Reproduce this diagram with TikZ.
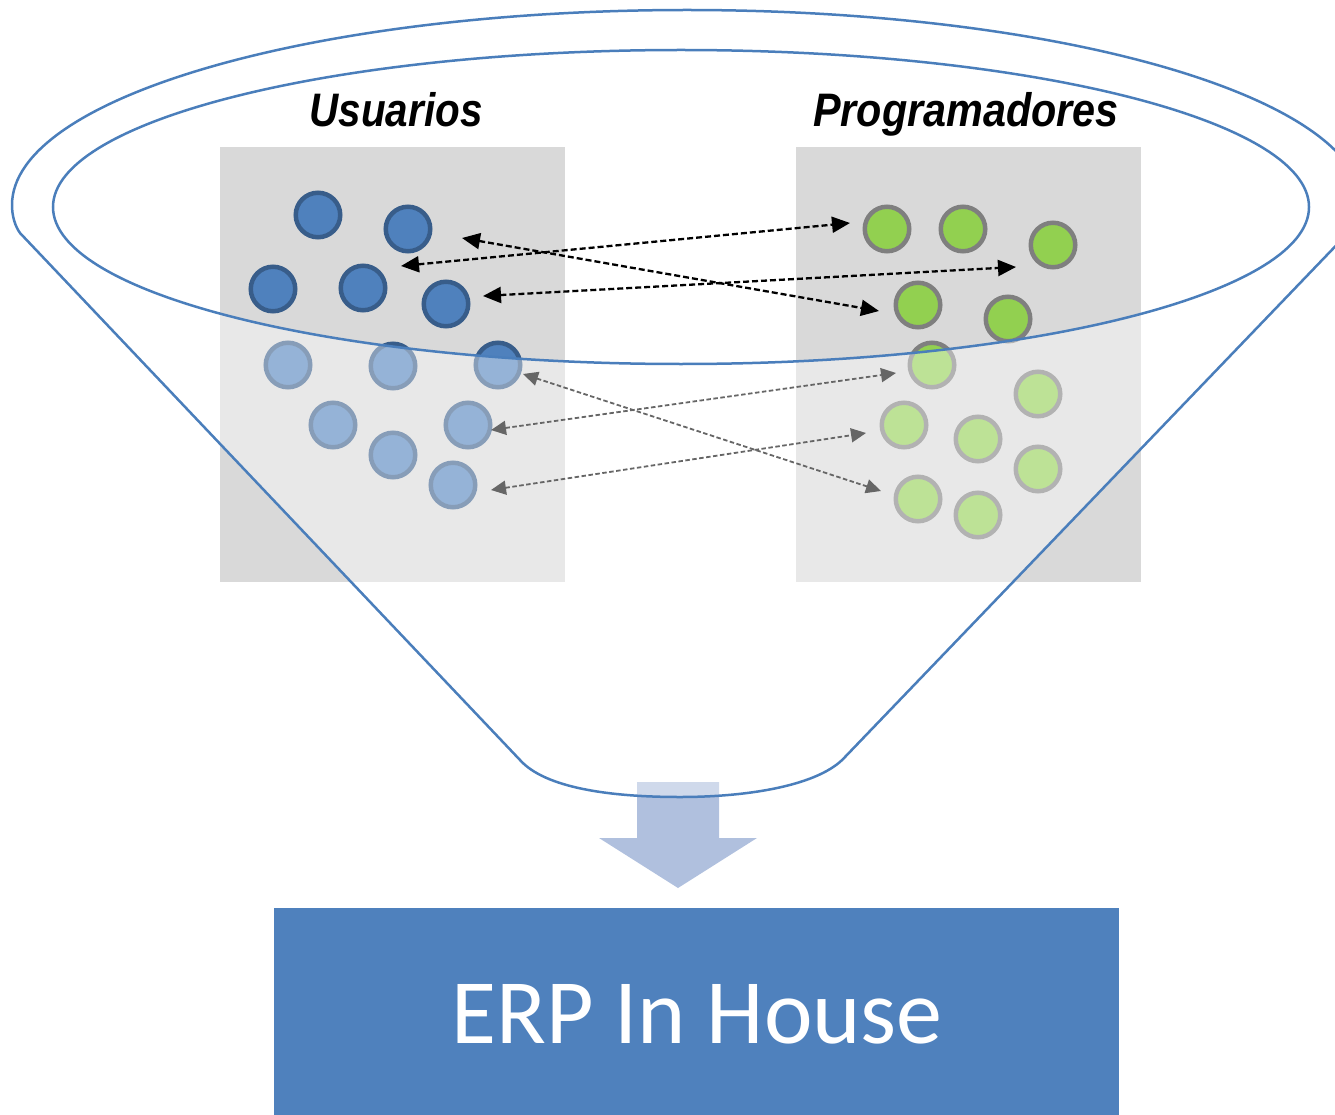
\documentclass[tikz,border=0pt]{standalone}
\usepackage{fontspec}
\newfontfamily\labfont{Liberation Sans}
\newfontfamily\erpfont{Carlito}
\usetikzlibrary{arrows.meta}
\definecolor{funblue}{HTML}{4A7EBB}
\definecolor{ublue}{HTML}{4F81BD}
\definecolor{ubluedark}{HTML}{385D8A}
\definecolor{pgreen}{HTML}{92D050}
\definecolor{pgray}{HTML}{7F7F7F}
\definecolor{boxgray}{HTML}{D9D9D9}
\definecolor{arrowblue}{HTML}{B0C0DE}
\begin{document}
\begin{tikzpicture}[x=1pt,y=-1pt,
  usr/.style={circle,draw=ubluedark,fill=ublue,line width=4.5pt,minimum size=44.5pt,inner sep=0pt},
  prg/.style={circle,draw=pgray,fill=pgreen,line width=4.5pt,minimum size=44.5pt,inner sep=0pt},
  grpbox/.style={fill=boxgray,draw=none,minimum width=345pt,minimum height=435pt,anchor=north west,inner sep=0pt},
  lnk/.style={black,line width=2.3pt,dash pattern=on 6pt off 3pt,
    {Triangle[length=18pt,width=16pt]}-{Triangle[length=18pt,width=16pt]}},
  lnklow/.style={black,line width=1.8pt,dash pattern=on 4.5pt off 2.5pt,
    {Triangle[length=15pt,width=14pt]}-{Triangle[length=15pt,width=14pt]}},
  ttl/.style={anchor=base,font=\labfont\fontsize{47}{52}\selectfont\bfseries\itshape},
  funline/.style={draw=funblue,line width=2.5pt}]
\useasboundingbox (0,0) rectangle (1335,1115);
\clip (0,0) rectangle (1335,1115);

% group boxes
\node[grpbox] (ubox) at (220,147) {};
\node[grpbox] (pbox) at (796,147) {};

% titles
\node[ttl] (ut) at (396,127) {\scalebox{0.86}[1]{Usuarios}};
\node[ttl] (pt) at (966,127) {\scalebox{0.88}[1]{Programadores}};

% users
\node[usr] (u1) at (318,215) {};
\node[usr] (u2) at (408,229) {};
\node[usr] (u3) at (273,289) {};
\node[usr] (u4) at (363,288) {};
\node[usr] (u5) at (446,304) {};
\node[usr] (u6) at (288,365) {};
\node[usr] (u7) at (393,366) {};
\node[usr] (u8) at (498,365) {};
\node[usr] (u9) at (333,425) {};
\node[usr] (u10) at (468,425) {};
\node[usr] (u11) at (393,455) {};
\node[usr] (u12) at (453,485) {};

% programmers
\node[prg] (p1) at (887,229) {};
\node[prg] (p2) at (963,229) {};
\node[prg] (p3) at (1053,245) {};
\node[prg] (p4) at (918,305) {};
\node[prg] (p5) at (1008,319) {};
\node[prg] (p6) at (932,365) {};
\node[prg] (p7) at (1038,394) {};
\node[prg] (p8) at (904,425) {};
\node[prg] (p9) at (978,439) {};
\node[prg] (p10) at (1038,469) {};
\node[prg] (p11) at (918,499) {};
\node[prg] (p12) at (978,515) {};

% link end points
\coordinate (a1s) at (462,238);  \coordinate (a1e) at (879,311);
\coordinate (a2s) at (401,266);  \coordinate (a2e) at (850,223);
\coordinate (a3s) at (483,296);  \coordinate (a3e) at (1016,267);
\coordinate (b1s) at (523,374);  \coordinate (b1e) at (881,491);
\coordinate (b2s) at (491,430);  \coordinate (b2e) at (896,373);
\coordinate (b3s) at (491,490);  \coordinate (b3e) at (866,433);

\draw[lnk] (a1s) -- (a1e);
\draw[lnk] (a2s) -- (a2e);
\draw[lnk] (a3s) -- (a3e);
\draw[lnklow] (b1s) -- (b1e);
\draw[lnklow] (b2s) -- (b2e);
\draw[lnklow] (b3s) -- (b3e);

% big down arrow
\fill[arrowblue] (637,782) -- (719,782) -- (719,838) -- (757,838) -- (678,888)
  -- (599,838) -- (637,838) -- cycle;

% translucent funnel body
\fill[white,opacity=0.4]
  (53,207) arc[start angle=180,end angle=0,x radius=628,y radius=157]
  -- (1362,205) .. controls (1362,218) and (1357,225) .. (1350,231)
  -- (845,757)
  .. controls (820,785) and (750,797) .. (680,797)
  .. controls (610,797) and (545,788) .. (520,760)
  -- (20,233)
  .. controls (15,226) and (12,216) .. (12,205) -- cycle;

% funnel outline
\draw[funline,line join=round]
  (20,233) .. controls (15,226) and (12,216) .. (12,205)
  arc[start angle=180,end angle=360,x radius=675,y radius=195]
  .. controls (1362,218) and (1357,225) .. (1350,231)
  -- (845,757)
  .. controls (820,785) and (750,797) .. (680,797)
  .. controls (610,797) and (545,788) .. (520,760)
  -- cycle;
\draw[funline] (681,207) ellipse[x radius=628,y radius=157];

% result box
\node[fill=ublue,draw=none,minimum width=845pt,minimum height=215pt,anchor=north west,inner sep=0pt] (erp) at (274,908) {};
\node[anchor=base,text=white,font=\erpfont\fontsize{92}{100}\selectfont] (erptxt) at (697,1043) {ERP In House};
\end{tikzpicture}
\end{document}
